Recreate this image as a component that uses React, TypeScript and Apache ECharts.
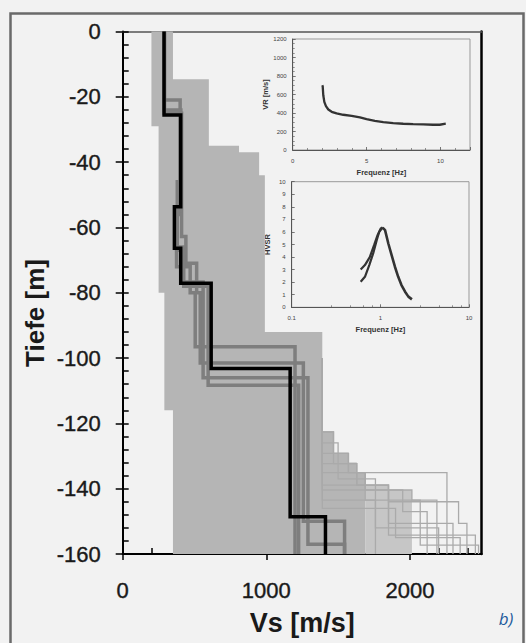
import React, { useEffect, useRef } from "react";
import * as echarts from "echarts";

const FONT = '"Liberation Sans", Arial, Helvetica, sans-serif';

// ---- Main panel: Vs profiles (layer boundaries in m, velocities in m/s) ----
const bestDepths = [0, -25.6, -53.7, -66.4, -77.1, -103.2, -148.6, -160];
const bestVs = [288, 404, 360, 404, 616, 1166, 1412];

const dark1Depths = [0, -21, -56, -72, -80, -96.5, -160];
const dark1Vs = [290, 400, 375, 470, 505, 1200];
const dark2Depths = [0, -25, -62.8, -71, -80, -101.5, -150, -160];
const dark2Vs = [290, 410, 440, 515, 540, 1258, 1545];
const dark3Depths = [0, -25, -46, -66, -76.7, -106, -157, -160];
const dark3Vs = [290, 400, 380, 420, 560, 1290, 1545];
const dark4Depths = [0, -24, -55, -67, -78, -108.3, -160];
const dark4Vs = [290, 405, 380, 425, 595, 1225];

// envelope of the many tested profiles (dense light-grey band)
const envLeftDepths = [0, -29, -80, -116, -160];
const envLeftVs = [200, 250, 290, 350];
const envRightDepths = [0, -14.6, -35, -37, -44, -92, -122.5, -129, -132, -135, -160];
const envRightVs = [350, 600, 810, 950, 990, 1390, 1470, 1570, 1630, 1690];
// sparser hatched zone at depth
const hatchDepths = [-139, -140.4, -160];
const hatchVs = [1851, 2014];
const hatchLeftVs = 1690;

// deep tails of individual light-grey profiles
const thinDepths = [
  [-100, -122.6, -129.2, -135.1, -160],
  [-100, -122.6, -132.3, -138.9, -144, -150.6, -160],
  [-100, -129.2, -135.1, -140.4, -143.5, -160],
  [-100, -132.3, -138.9, -154.2, -160],
  [-100, -135.1, -143.5, -157.3, -160],
  [-100, -138.9, -150.6, -160],
  [-100, -140.4, -147, -160],
  [-100, -143.5, -152, -160],
  [-100, -126, -137, -160],
  [-100, -146, -155, -160],
];
const thinVs = [
  [1390, 1468, 1572, 2258],
  [1390, 1468, 1630, 1851, 2339, 2397],
  [1390, 1572, 1689, 2014, 2188],
  [1390, 1630, 1851, 2456],
  [1390, 1689, 2072, 2478],
  [1390, 1851, 2300],
  [1390, 1950, 2120],
  [1390, 1760, 2200],
  [1390, 1500, 1760],
  [1390, 1900, 2350],
];

// ---- Inset 1: dispersion curve ----
const vrFreq = [2.0, 2.03, 2.07, 2.14, 2.25, 2.41, 2.64, 2.97, 3.42, 3.99, 4.55, 5.0, 5.56, 6.13, 6.8, 7.48, 8.15, 8.83, 9.5, 9.95, 10.36];
const vrVel = [700, 690, 592, 521, 474, 438, 413, 395, 381, 370, 352, 334, 316, 302, 291, 284, 280, 277, 273, 273, 284];

// ---- Inset 2: H/V ----
const hvUpFreq = [0.6, 0.67, 0.76, 0.85, 0.93, 1.01, 1.06];
const hvUpVal = [3.0, 3.36, 4.0, 4.95, 5.74, 6.27, 6.35];
const hvLowFreq = [0.6, 0.67, 0.75, 0.83, 0.91, 0.97, 1.06];
const hvLowVal = [2.04, 2.43, 3.36, 4.29, 5.34, 6.0, 6.35];
const hvDownFreq = [1.06, 1.13, 1.23, 1.34, 1.46, 1.59, 1.73, 1.9, 2.07, 2.27];
const hvDownVal = [6.35, 6.14, 5.08, 4.15, 3.23, 2.43, 1.77, 1.24, 0.85, 0.63];

function stepPoints(depths: number[], vs: number[]) {
  const pts: number[][] = [];
  for (let i = 0; i < vs.length; i++) {
    pts.push([vs[i], depths[i]]);
    pts.push([vs[i], depths[i + 1]]);
  }
  return pts;
}
function zip(a: number[], b: number[]) {
  return a.map((v, i) => [v, b[i]]);
}
const plain = (v: number) => String(v);

const envelopePoly = [
  ...stepPoints(envLeftDepths, envLeftVs),
  ...stepPoints(envRightDepths, envRightVs).reverse(),
];
const hatchPoly = [
  [hatchLeftVs, hatchDepths[0]],
  ...stepPoints(hatchDepths, hatchVs),
  [hatchLeftVs, hatchDepths[hatchDepths.length - 1]],
];

function polySeries(poly: number[][], color: string, z: number) {
  return {
    type: "custom",
    xAxisIndex: 0,
    yAxisIndex: 0,
    z,
    silent: true,
    encode: { x: 0, y: 1 },
    data: poly,
    renderItem: (params: any, api: any) => {
      if (params.dataIndex !== 0) return null;
      return {
        type: "polygon",
        shape: { points: poly.map((p) => api.coord(p)) },
        style: { fill: color, stroke: null },
      };
    },
  };
}

function profileSeries(pts: number[][], color: string, width: number, z: number) {
  return {
    type: "line",
    xAxisIndex: 0,
    yAxisIndex: 0,
    z,
    data: pts,
    showSymbol: false,
    silent: true,
    lineStyle: { color, width, join: "miter", cap: "butt" },
  };
}

const insetLabel = { fontSize: 6, color: "#444", fontFamily: FONT, formatter: plain };
const insetName = { fontSize: 7.5, color: "#333", fontWeight: "bold" as const, fontFamily: FONT };
const mainLabel = {
  fontSize: 22, color: "#1a1a1a", fontFamily: FONT, formatter: plain,
  textBorderColor: "#1a1a1a", textBorderWidth: 0.4,
};

export default function App() {
  const ref = useRef<HTMLDivElement>(null);
  useEffect(() => {
    if (!ref.current) return;
    const chart = echarts.init(ref.current, undefined, { renderer: "svg" });
    const series: any[] = [
      polySeries(envelopePoly, "#b5b5b5", 1),
      polySeries(hatchPoly, "#c6c6c6", 1),
      ...thinDepths.map((d, i) => profileSeries(stepPoints(d, thinVs[i]), "#aaaaaa", 1.3, 2)),
      profileSeries(stepPoints(dark1Depths, dark1Vs), "#7e7e7e", 3.5, 3),
      profileSeries(stepPoints(dark2Depths, dark2Vs), "#7e7e7e", 3.5, 3),
      profileSeries(stepPoints(dark3Depths, dark3Vs), "#7e7e7e", 3.5, 3),
      profileSeries(stepPoints(dark4Depths, dark4Vs), "#7e7e7e", 3.5, 3),
      profileSeries(stepPoints(bestDepths, bestVs), "#000000", 3.5, 4),
      {
        type: "line", xAxisIndex: 3, yAxisIndex: 3, data: zip(vrFreq, vrVel), showSymbol: false,
        lineStyle: { color: "#333", width: 2.3 }, silent: true,
      },
      {
        type: "line", xAxisIndex: 4, yAxisIndex: 4, data: zip(hvUpFreq, hvUpVal), showSymbol: false,
        lineStyle: { color: "#333", width: 2.2 }, silent: true,
      },
      {
        type: "line", xAxisIndex: 4, yAxisIndex: 4, data: zip(hvLowFreq, hvLowVal), showSymbol: false,
        lineStyle: { color: "#333", width: 2.2 }, silent: true,
      },
      {
        type: "line", xAxisIndex: 4, yAxisIndex: 4, data: zip(hvDownFreq, hvDownVal), showSymbol: false,
        lineStyle: { color: "#333", width: 2.6 }, silent: true,
      },
    ];

    const option: any = {
      animation: false,
      backgroundColor: "#f2f2f2",
      grid: [
        { left: 122.7, top: 31.5, width: 359, height: 522.5, show: false },
        { left: 292.7, top: 39, width: 177.3, height: 111, show: true, borderColor: "#999", borderWidth: 1, backgroundColor: "transparent" },
        { left: 291.7, top: 181.7, width: 177.3, height: 125.6, show: true, borderColor: "#999", borderWidth: 1, backgroundColor: "transparent" },
      ],
      xAxis: [
        {
          type: "value", gridIndex: 0, min: 0, max: 2500, interval: 1000, position: "bottom",
          axisLine: { show: true, onZero: false, lineStyle: { color: "#000", width: 2 } },
          axisTick: { show: true, inside: false, length: 6, lineStyle: { color: "#000", width: 1.5 } },
          minorTick: { show: false },
          splitLine: { show: false },
          axisLabel: { ...mainLabel, show: true, margin: 25, showMaxLabel: false },
          name: "Vs [m/s]", nameLocation: "middle", nameGap: 55,
          nameTextStyle: { fontSize: 27, fontWeight: "bold", color: "#1a1a1a", fontFamily: FONT },
        },
        {
          type: "value", gridIndex: 0, min: 0, max: 2500, interval: 1000, position: "bottom",
          axisLine: { show: false, onZero: false },
          axisTick: { show: false, inside: true },
          minorTick: { show: true, splitNumber: 5, length: 6, lineStyle: { color: "#000", width: 1.5 } },
          splitLine: { show: false },
          axisLabel: { show: false },
        },
        {
          type: "value", gridIndex: 0, min: 0, max: 2500, position: "top",
          axisLine: { show: true, onZero: false, lineStyle: { color: "#555", width: 1.5 } },
          axisTick: { show: false }, axisLabel: { show: false }, splitLine: { show: false },
        },
        {
          type: "value", gridIndex: 1, min: 0, max: 12, interval: 5, position: "bottom",
          axisLine: { show: true, onZero: false, lineStyle: { color: "#555", width: 1 } },
          axisTick: { show: true, inside: true, length: 3, lineStyle: { color: "#555", width: 0.8 } },
          minorTick: { show: true, splitNumber: 5, length: 2, lineStyle: { color: "#666", width: 0.7 } },
          splitLine: { show: false },
          axisLabel: { ...insetLabel, margin: 8, showMaxLabel: false },
          name: "Frequenz [Hz]", nameLocation: "middle", nameGap: 18, nameTextStyle: insetName,
        },
        {
          type: "log", gridIndex: 2, min: 0.1, max: 10, logBase: 10, position: "bottom",
          axisLine: { show: true, onZero: false, lineStyle: { color: "#555", width: 1 } },
          axisTick: { show: true, inside: true, length: 3, lineStyle: { color: "#555", width: 0.8 } },
          minorTick: { show: true, splitNumber: 5, length: 2, lineStyle: { color: "#666", width: 0.7 } },
          splitLine: { show: false },
          axisLabel: { ...insetLabel, margin: 8 },
          name: "Frequenz [Hz]", nameLocation: "middle", nameGap: 18, nameTextStyle: insetName,
        },
      ],
      yAxis: [
        {
          type: "value", gridIndex: 0, min: -160, max: 0, interval: 20, position: "left",
          axisLine: { show: true, onZero: false, lineStyle: { color: "#000", width: 2 } },
          axisTick: { show: true, inside: false, length: 7, lineStyle: { color: "#000", width: 1.5 } },
          splitLine: { show: false },
          axisLabel: { ...mainLabel, margin: 22 },
        },
        {
          type: "value", gridIndex: 0, min: -160, max: 0, interval: 20, position: "left",
          axisLine: { show: false, onZero: false },
          axisTick: { show: true, inside: true, length: 6, lineStyle: { color: "#000", width: 1.5 } },
          minorTick: { show: true, splitNumber: 5, length: 6, lineStyle: { color: "#000", width: 1.5 } },
          splitLine: { show: false },
          axisLabel: { show: false },
        },
        {
          type: "value", gridIndex: 0, min: -160, max: 0, position: "right",
          axisLine: { show: true, onZero: false, lineStyle: { color: "#000", width: 2.5 } },
          axisTick: { show: false }, axisLabel: { show: false }, splitLine: { show: false },
        },
        {
          type: "value", gridIndex: 1, min: 0, max: 1200, interval: 200, position: "left",
          axisLine: { show: true, onZero: false, lineStyle: { color: "#555", width: 1 } },
          axisTick: { show: true, inside: true, length: 3, lineStyle: { color: "#555", width: 0.8 } },
          minorTick: { show: true, splitNumber: 4, length: 2, lineStyle: { color: "#666", width: 0.7 } },
          splitLine: { show: false },
          axisLabel: { ...insetLabel, margin: 6 },
          name: "VR [m/s]", nameLocation: "middle", nameGap: 21, nameTextStyle: insetName,
        },
        {
          type: "value", gridIndex: 2, min: 0, max: 10, interval: 1, position: "left",
          axisLine: { show: true, onZero: false, lineStyle: { color: "#555", width: 1 } },
          axisTick: { show: true, inside: true, length: 3, lineStyle: { color: "#555", width: 0.8 } },
          minorTick: { show: false },
          splitLine: { show: false },
          axisLabel: { ...insetLabel, margin: 6 },
          name: "HVSR", nameLocation: "middle", nameGap: 20, nameTextStyle: insetName,
        },
      ],
      graphic: [
        {
          type: "rect", left: 8, top: 11, z: 100, silent: true,
          shape: { x: 0, y: 0, width: 513, height: 700 },
          style: { fill: "none", stroke: "#6a6a6a", lineWidth: 2.5 },
        },
        {
          type: "text", x: 35, y: 313, rotation: Math.PI / 2, z: 100, silent: true,
          style: {
            text: "Tiefe [m]", font: `bold 26px ${FONT}`, fill: "#1a1a1a",
            textAlign: "center", textVerticalAlign: "middle", align: "center", verticalAlign: "middle",
          },
        },
        {
          type: "text", x: 506, y: 618, z: 100, silent: true,
          style: {
            text: "b)", font: `italic 17px "Open Sans", "Noto Sans", sans-serif`, fill: "#1d5a9c",
            textAlign: "center", textVerticalAlign: "middle", align: "center", verticalAlign: "middle",
          },
        },
      ],
      series,
    };
    chart.setOption(option);
    return () => chart.dispose();
  }, []);
  return (
    <div
      ref={ref}
      style={{ position: "absolute", left: 0, top: 0, width: 526, height: 643 }}
    />
  );
}
